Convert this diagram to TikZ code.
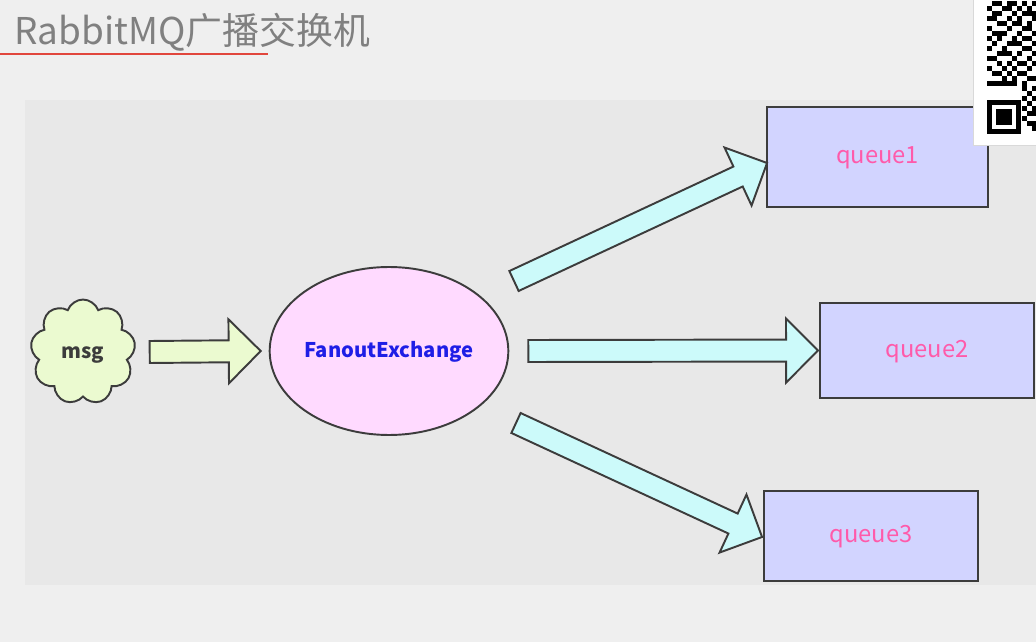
\documentclass[tikz,border=0pt]{standalone}
\usepackage{fontspec}
\newfontfamily\cjk{Noto Sans CJK SC}
\usetikzlibrary{shapes.geometric,shapes.symbols,calc}

\definecolor{bgout}{RGB}{239,239,239}
\definecolor{bgpanel}{RGB}{232,232,232}
\definecolor{titlegray}{RGB}{128,128,128}
\definecolor{linered}{RGB}{225,70,60}
\definecolor{edge}{RGB}{60,60,60}
\definecolor{msggreen}{RGB}{235,250,208}
\definecolor{fxpink}{RGB}{255,218,255}
\definecolor{fxblue}{RGB}{30,30,230}
\definecolor{arrcyan}{RGB}{204,250,250}
\definecolor{qfill}{RGB}{210,212,255}
\definecolor{qtext}{RGB}{255,90,170}

% block arrow from tail coordinate #1 to tip coordinate #2, filled with #3
\newcommand{\fatarrow}[3]{%
  \coordinate (#2b) at ($(#2)!0.64cm!(#1)$);
  \draw[fatline, fill=#3]
    ($(#1)!0.22cm!90:(#2)$) -- ($(#2b)!0.22cm!-90:(#1)$)
    -- ($(#2b)!0.64cm!-90:(#1)$) -- (#2)
    -- ($(#2b)!0.64cm!90:(#1)$) -- ($(#2b)!0.22cm!90:(#1)$)
    -- ($(#1)!0.22cm!-90:(#2)$) -- cycle;
}

\begin{document}
\begin{tikzpicture}[
  x=0.02cm, y=-0.02cm,
  font=\cjk,
  fatline/.style={draw=edge, line width=1.1pt},
  label box/.style={text height=0.95em, text depth=0.2em},
  queue/.style={rectangle, draw=edge, line width=1.1pt, fill=qfill, text=qtext,
    label box, font=\cjk\fontsize{13.5}{16}\selectfont},
]
\useasboundingbox (0,0) rectangle (1036,642);
\fill[bgout] (0,0) rectangle (1036,642);
\fill[bgpanel] (25,100) rectangle (1036,585);

% title
\node[anchor=west, text=titlegray, inner sep=0, font=\cjk\fontsize{21}{25}\selectfont]
  (title) at (14,32) {RabbitMQ广播交换机};
\draw[linered, line width=1.2pt] (0,54) -- (268,54);

% nodes
\node[cloud, cloud puffs=9, cloud puff arc=140, aspect=1, draw=edge, line width=1.1pt,
  fill=msggreen, minimum width=2.1cm, minimum height=2.1cm, inner sep=0, label box,
  font=\cjk\bfseries\fontsize{11.5}{14}\selectfont, text=edge] (msg) at (83,352) {msg};
\node[ellipse, draw=edge, line width=1.1pt, fill=fxpink, minimum width=4.76cm,
  minimum height=3.36cm, inner sep=0, text=fxblue, label box,
  font=\cjk\bfseries\fontsize{11.5}{14}\selectfont] (fx) at (389,351) {FanoutExchange};
\node[queue, minimum width=4.42cm, minimum height=2cm] (q1) at (877.5,157) {queue1};
\node[queue, minimum width=4.28cm, minimum height=1.9cm] (q2) at (927,350.5) {queue2};
\node[queue, minimum width=4.28cm, minimum height=1.8cm] (q3) at (871,536) {queue3};

% arrows
\coordinate (m0) at ($(msg.east)+(15,0)$);
\coordinate (m1) at ($(fx.west)+(-8,0)$);
\coordinate (a1) at ($(fx)+(125,-70)$);
\coordinate (t1) at ($(q1.west)+(1,6)$);
\coordinate (a2) at ($(fx.east)+(19,0)$);
\coordinate (t2) at ($(q2.west)+(-1,0)$);
\coordinate (a3) at ($(fx)+(127,72)$);
\coordinate (t3) at ($(q3.west)+(-1,1)$);
\fatarrow{m0}{m1}{msggreen}
\fatarrow{a1}{t1}{arrcyan}
\fatarrow{a2}{t2}{arrcyan}
\fatarrow{a3}{t3}{arrcyan}

% qr code corner
\fill[white] (973,0) rectangle (1036,145);
\draw[black!15] (973,0) -- (973,145) -- (1036,145);
\foreach \r/\cols in {0/{1,2,4,5,7,9}, 1/{0,3,4,6,8}, 2/{1,2,5,7,8,9}, 3/{0,1,4,6,9},
    4/{2,3,5,6,8}, 5/{0,4,7,8}, 6/{1,2,3,6,9}, 7/{0,2,5,7,8}, 8/{1,4,5,6,9},
    9/{0,3,7,8}, 10/{2,3,4,6,9}, 11/{0,1,5,8}, 12/{2,4,6,7,9}, 13/{0,3,5,8},
    14/{1,2,4,6,7}, 15/{3,5,8,9}, 16/{0,1,2,3,4,5,7}, 17/{7,9}, 18/{8},
    19/{7,9}, 20/{8}, 21/{7,9}, 22/{8,9}, 23/{7}, 24/{8,9}, 25/{9}}{
  \foreach \c in \cols
    \fill[black] (987+5*\c,1+5*\r) rectangle ++(5,5);
}
\fill[black] (987,100) rectangle (1021,134);
\fill[white] (992,105) rectangle (1016,129);
\fill[black] (996,109) rectangle (1012,125);
\end{tikzpicture}
\end{document}
